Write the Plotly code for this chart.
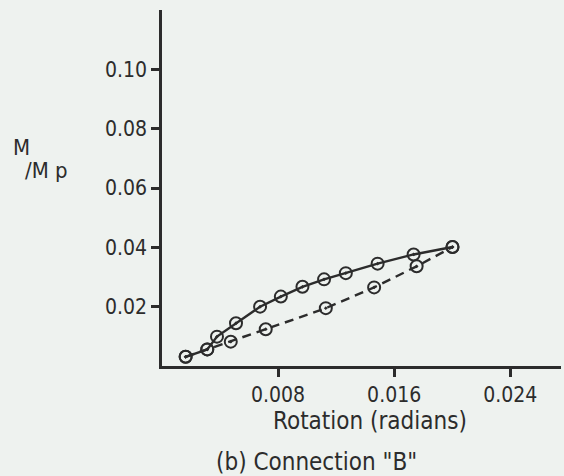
import plotly.graph_objects as go

# Moment-rotation data for connection "B"
rot_loading = [0.00163, 0.00312, 0.00379, 0.0051, 0.00676, 0.00819, 0.00968,
               0.01117, 0.01267, 0.01486, 0.01734, 0.02002]
m_loading = [0.0031, 0.0056, 0.0099, 0.0144, 0.0200, 0.0234, 0.0267,
             0.0292, 0.0313, 0.0345, 0.0376, 0.0401]

rot_unloading = [0.00163, 0.00312, 0.00474, 0.00715, 0.01129, 0.01462, 0.01755, 0.02002]
m_unloading = [0.0031, 0.0056, 0.0082, 0.0124, 0.0195, 0.0265, 0.0336, 0.0401]

x_ticks = [0.008, 0.016, 0.024]
x_tick_text = ["0.008", "0.016", "0.024"]
y_ticks = [0.02, 0.04, 0.06, 0.08, 0.10]
y_tick_text = ["0.02", "0.04", "0.06", "0.08", "0.10"]

INK = "#2c2c2c"
PAPER = "#eef2ef"
FONT = "DejaVu Sans Condensed, Liberation Sans, sans-serif"

W, H = 564, 476
L, R, T, B = 162, 3, 10, 110

def px(x):
    return (x - L) / (W - L - R)

def py(y):
    return (H - B - y) / (H - B - T)

marker = dict(symbol="circle-open-dot", size=12, color=INK, line=dict(width=2, color=INK))

fig = go.Figure()
fig.add_trace(go.Scatter(x=rot_loading, y=m_loading, mode="lines+markers",
                         line=dict(color=INK, width=2.4), marker=marker,
                         showlegend=False, cliponaxis=False))
fig.add_trace(go.Scatter(x=rot_unloading, y=m_unloading, mode="lines+markers",
                         line=dict(color=INK, width=2.4, dash="9px,6px"), marker=marker,
                         showlegend=False, cliponaxis=False))

axis_style = dict(showline=True, linecolor=INK, linewidth=2.6, ticks="outside",
                  ticklen=8, tickwidth=2.5, tickcolor=INK, showgrid=False, zeroline=False,
                  tickfont=dict(family=FONT, size=21, color=INK))
fig.update_xaxes(range=[0, 0.0275], tickvals=x_ticks, ticktext=x_tick_text, **axis_style)
fig.update_yaxes(range=[0, 0.12], tickvals=y_ticks, ticktext=y_tick_text, **axis_style)

def label(text, x, y, size=21, xanchor="center"):
    fig.add_annotation(x=px(x), y=py(y), xref="paper", yref="paper", text=text,
                       showarrow=False, xanchor=xanchor, yanchor="middle",
                       font=dict(family=FONT, size=size, color=INK))

label("Rotation (radians)", 370, 421, size=24)
label("(b) Connection \"B\"", 316, 462, size=24)
label("M", 21, 148, size=22)
label("/M p", 23, 170, size=22, xanchor="left")

fig.update_layout(width=W, height=H, margin=dict(l=L, r=R, t=T, b=B),
                  paper_bgcolor=PAPER, plot_bgcolor=PAPER)

fig.write_html("out.html")
